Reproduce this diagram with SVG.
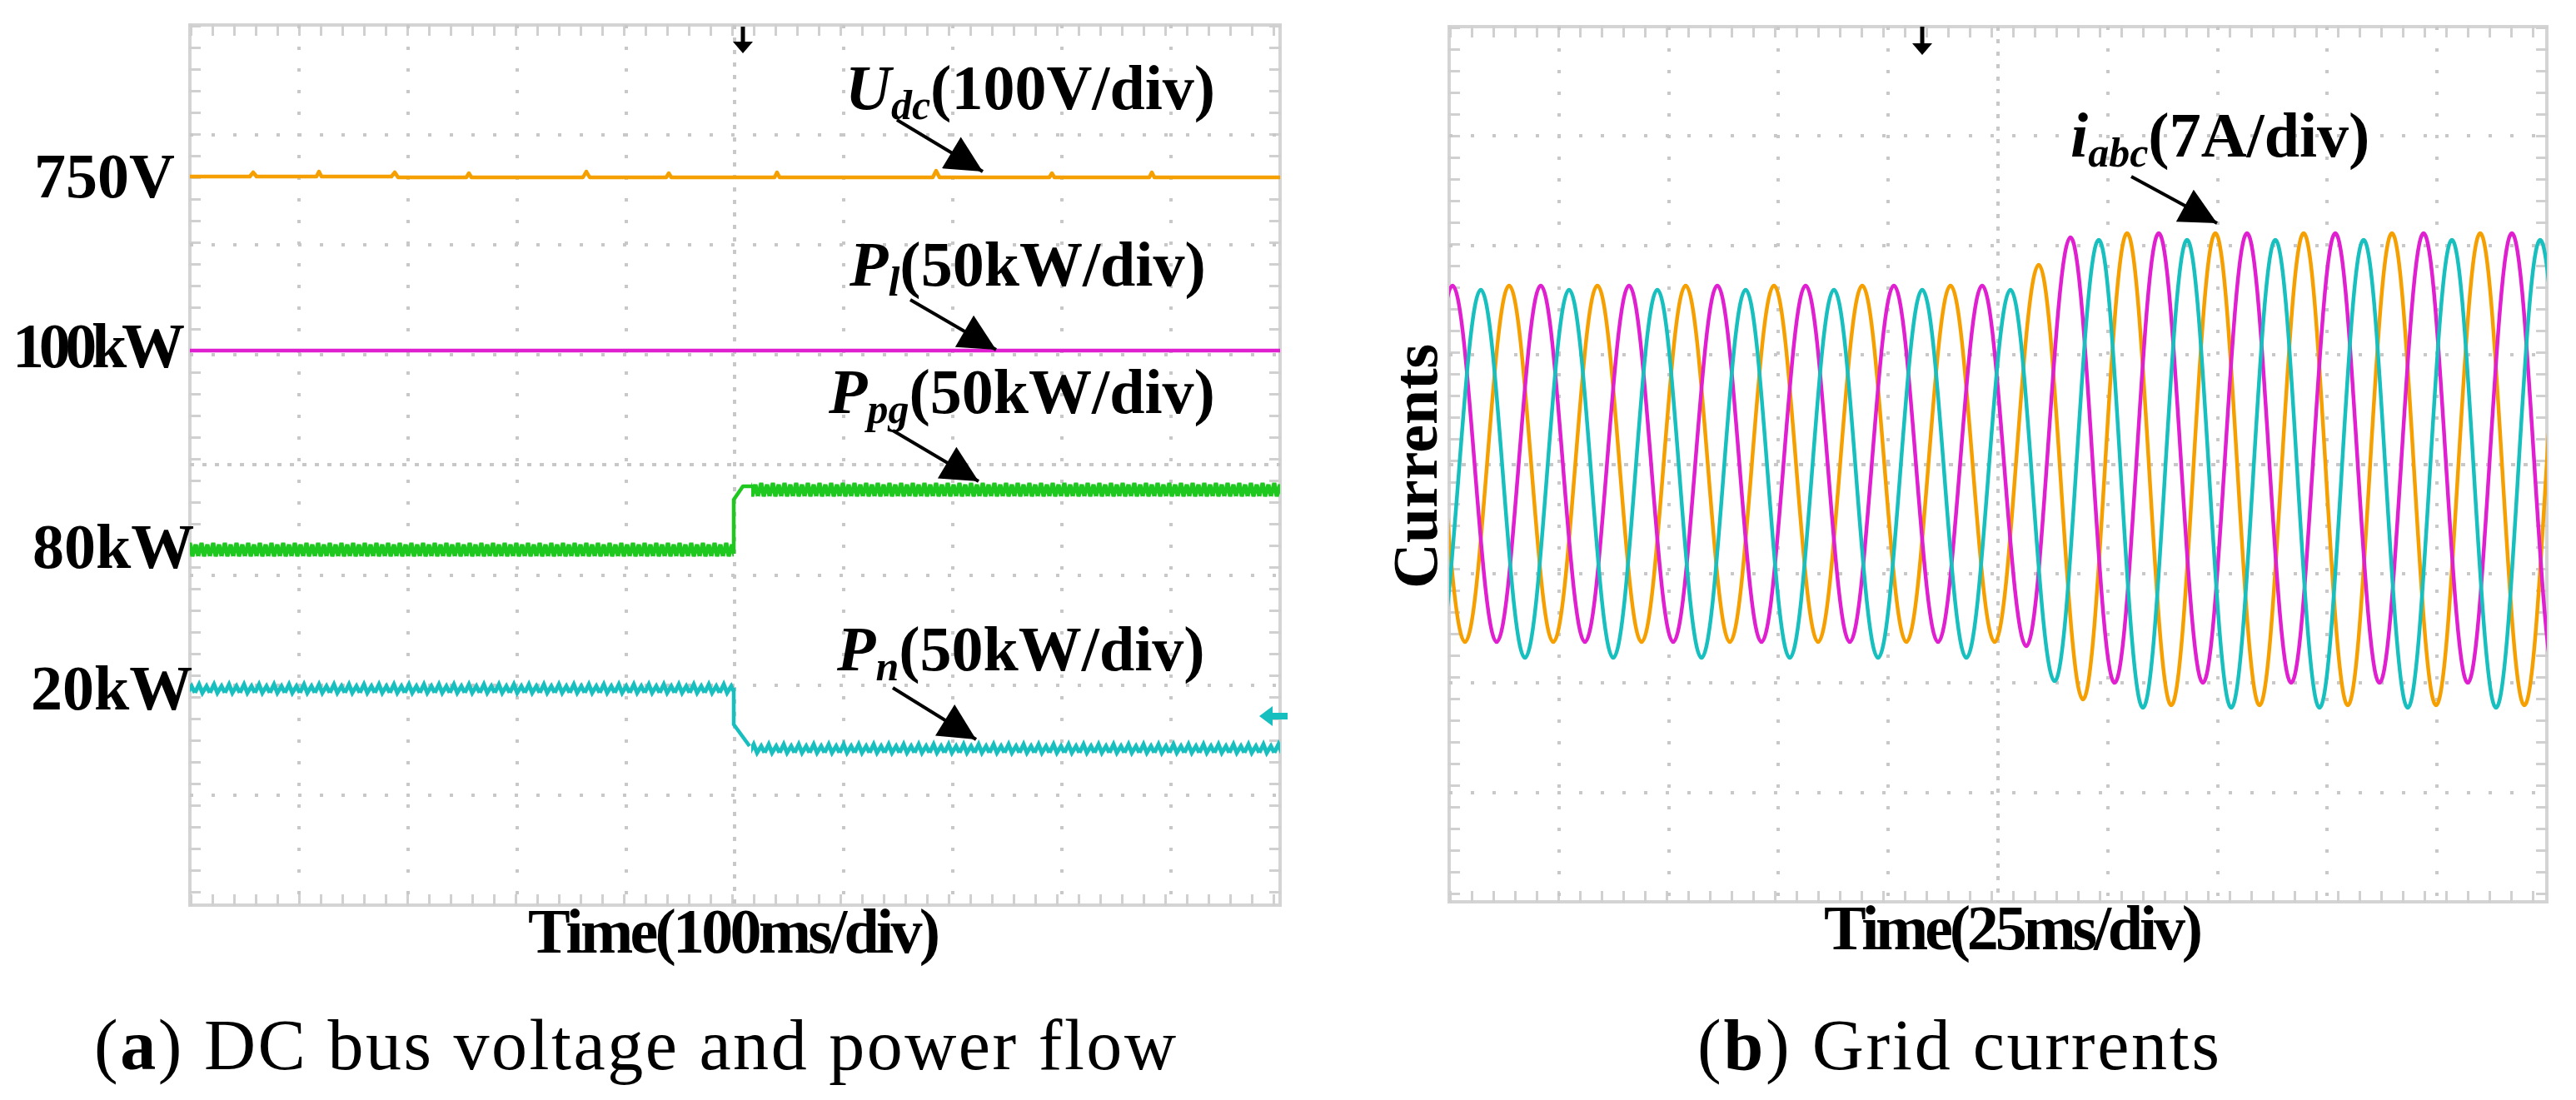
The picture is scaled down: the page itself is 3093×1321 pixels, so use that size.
<svg xmlns="http://www.w3.org/2000/svg" width="3093" height="1321" viewBox="0 0 3093 1321">
<style>
.box{fill:#fff;stroke:#d4d4d4;stroke-width:4}
.grid{stroke:#c8c8c8;stroke-width:4;stroke-dasharray:4 22;fill:none}
.cgrid{stroke:#c8c8c8;stroke-width:4;stroke-dasharray:5 10;fill:none}
.tick{stroke:#d0d0d0;stroke-width:14;stroke-dasharray:3 23;fill:none}
.lab{font-family:"Liberation Serif",serif;font-weight:bold;font-size:76px;fill:#000}
.cap{font-family:"Liberation Serif",serif;font-size:86px;fill:#000}
.arr{stroke:#000;stroke-width:4;fill:none}
.w{fill:none;stroke-width:4.5;stroke-linejoin:round}
</style>
<defs>
<marker id="big" viewBox="0 0 10 10" refX="10" refY="5" markerWidth="50" markerHeight="44" orient="auto" markerUnits="userSpaceOnUse"><path d="M0,0 L10,5 L0,10 z" fill="#000"/></marker>
<pattern id="zg" x="0" y="0" width="14" height="24" patternUnits="userSpaceOnUse"><path d="M0,20 L4,4 L7,20 L11,6 L14,20" fill="none" stroke="#1ec81e" stroke-width="5"/></pattern>
<pattern id="zc" x="0" y="0" width="18" height="24" patternUnits="userSpaceOnUse"><path d="M0,16 L5,6 L9,16 L14,8 L18,16" fill="none" stroke="#17bfbf" stroke-width="5"/></pattern>
<clipPath id="cr"><rect x="1740" y="32" width="1318" height="1051"/></clipPath>
</defs>

<g id="panel-a">
<rect class="box" x="228" y="30" width="1309" height="1057"/>
<path class="tick" d="M228,36 H1537 M228,1081 H1537 M234,30 V1087 M1531,30 V1087"/>
<path class="grid" d="M359,30V1087 M490,30V1087 M621,30V1087 M752,30V1087 M1013,30V1087 M1144,30V1087 M1275,30V1087 M1406,30V1087 M228,162H1537 M228,294H1537 M228,426H1537 M228,691H1537 M228,823H1537 M228,955H1537"/>
<path class="cgrid" d="M882,30V1087 M228,558H1537"/>
<path d="M892,32 V52" stroke="#000" stroke-width="5"/>
<path d="M880,50 l12,14 l12,-14 z" fill="#000"/>
<path class="w" stroke="#f5a000" d="M228,212 H300 l4,-5 l4,5 H380 l3,-6 l3,6 H470 l4,-5 l4,6 H560 l3,-5 l3,5 H700 l4,-7 l4,7 H800 l3,-5 l3,5 H930 l3,-6 l3,6 H1120 l4,-8 l4,8 H1260 l3,-5 l3,5 H1380 l3,-6 l3,6 H1537"/>
<path class="w" stroke="#e020d0" d="M228,421 H1537"/>
<rect x="228" y="645" width="653" height="24" fill="url(#zg)"/>
<rect x="902" y="573" width="635" height="24" fill="url(#zg)"/>
<path class="w" stroke="#1ec81e" d="M881,665 V600 L892,584 H905"/>
<rect x="228" y="814" width="653" height="24" fill="url(#zc)"/>
<rect x="902" y="886" width="635" height="24" fill="url(#zc)"/>
<path class="w" stroke="#17bfbf" d="M881,826 V870 L900,896"/>
<path d="M1546,860 H1524" stroke="#17bfbf" stroke-width="8"/>
<path d="M1512,860 l16,-12 v24 z" fill="#17bfbf"/>
<text class="lab" x="41" y="237">750V</text>
<text class="lab" x="15" y="441" textLength="207">100kW</text>
<text class="lab" x="39" y="682">80kW</text>
<text class="lab" x="37" y="852">20kW</text>
<text class="lab" x="1015" y="131"><tspan font-style="italic">U</tspan><tspan font-style="italic" font-size="50" dy="12">dc</tspan><tspan dy="-12">(100V/div)</tspan></text>
<text class="lab" x="1020" y="343"><tspan font-style="italic">P</tspan><tspan font-style="italic" font-size="50" dy="12">l</tspan><tspan dy="-12">(50kW/div)</tspan></text>
<text class="lab" x="995" y="496"><tspan font-style="italic">P</tspan><tspan font-style="italic" font-size="50" dy="12">pg</tspan><tspan dy="-12">(50kW/div)</tspan></text>
<text class="lab" x="1005" y="805"><tspan font-style="italic">P</tspan><tspan font-style="italic" font-size="50" dy="12">n</tspan><tspan dy="-12">(50kW/div)</tspan></text>
<text class="lab" x="634" y="1144" textLength="495">Time(100ms/div)</text>
<text class="cap" x="113" y="1284" textLength="1299"><tspan>(</tspan><tspan font-weight="bold">a</tspan><tspan>) DC bus voltage and power flow</tspan></text>
</g>

<g id="panel-b">
<rect class="box" x="1740" y="32" width="1318" height="1051"/>
<path class="tick" d="M1740,38 H3058 M1740,1077 H3058 M1746,32 V1083 M3052,32 V1083"/>
<path class="grid" d="M1872,32V1083 M2004,32V1083 M2135,32V1083 M2267,32V1083 M2531,32V1083 M2663,32V1083 M2794,32V1083 M2926,32V1083 M1740,163H3058 M1740,295H3058 M1740,426H3058 M1740,689H3058 M1740,820H3058 M1740,952H3058"/>
<path class="cgrid" d="M2399,32V1083 M1740,558H3058"/>
<path d="M2308,32 V54" stroke="#000" stroke-width="5"/>
<path d="M2296,52 l12,14 l12,-14 z" fill="#000"/>
<g clip-path="url(#cr)">
<path class="w" stroke="#f5a000" d="M1706,343 C1725,343 1740,771 1759,771 S1793,343 1812,343 S1846,771 1865,771 S1899,343 1918,343 S1952,771 1971,771 S2005,343 2024,343 S2058,771 2077,771 S2111,343 2130,343 S2164,771 2183,771 S2217,343 2236,343 S2270,771 2289,771 S2323,343 2342,343 S2376,771 2395,771 S2429,318 2448,318 S2482,840 2501,840 S2535,280 2554,280 S2588,847 2607,847 S2641,280 2660,280 S2694,847 2713,847 S2747,280 2766,280 S2800,847 2819,847 S2853,280 2872,280 S2906,847 2925,847 S2959,280 2978,280 S3012,847 3031,847 S3065,280 3084,280"/>
<path class="w" stroke="#e020d0" d="M1691,771 C1710,771 1725,343 1744,343 S1778,771 1797,771 S1831,343 1850,343 S1884,771 1903,771 S1937,343 1956,343 S1990,771 2009,771 S2043,343 2062,343 S2096,771 2115,771 S2149,343 2168,343 S2202,771 2221,771 S2255,343 2274,343 S2308,771 2327,771 S2361,343 2380,343 S2414,776 2433,776 S2467,285 2486,285 S2520,820 2539,820 S2573,280 2592,280 S2626,820 2645,820 S2679,280 2698,280 S2732,820 2751,820 S2785,280 2804,280 S2838,820 2857,820 S2891,280 2910,280 S2944,820 2963,820 S2997,280 3016,280 S3050,820 3069,820"/>
<path class="w" stroke="#17bfbf" d="M1725,790 C1744,790 1759,348 1778,348 S1812,790 1831,790 S1865,348 1884,348 S1918,790 1937,790 S1971,348 1990,348 S2024,790 2043,790 S2077,348 2096,348 S2130,790 2149,790 S2183,348 2202,348 S2236,790 2255,790 S2289,348 2308,348 S2342,790 2361,790 S2395,348 2414,348 S2448,818 2467,818 S2501,288 2520,288 S2554,850 2573,850 S2607,288 2626,288 S2660,850 2679,850 S2713,288 2732,288 S2766,850 2785,850 S2819,288 2838,288 S2872,850 2891,850 S2925,288 2944,288 S2978,850 2997,850 S3031,288 3050,288 S3084,850 3103,850"/>
</g>
<text class="lab" x="0" y="0" transform="translate(1725,560) rotate(-90)" text-anchor="middle">Currents</text>
<text class="lab" x="2486" y="188"><tspan font-style="italic">i</tspan><tspan font-style="italic" font-size="50" dy="12">abc</tspan><tspan dy="-12">(7A/div)</tspan></text>
<text class="lab" x="2190" y="1140" textLength="455">Time(25ms/div)</text>
<text class="cap" x="2038" y="1284" textLength="627"><tspan>(</tspan><tspan font-weight="bold">b</tspan><tspan>) Grid currents</tspan></text>
</g>

<g id="connectors">
<path class="arr" d="M1077,144 L1180,206" marker-end="url(#big)"/>
<path class="arr" d="M1093,360 L1196,420" marker-end="url(#big)"/>
<path class="arr" d="M1072,517 L1175,578" marker-end="url(#big)"/>
<path class="arr" d="M1072,826 L1172,888" marker-end="url(#big)"/>
<path class="arr" d="M2559,212 L2662,268" marker-end="url(#big)"/>
</g>
</svg>
